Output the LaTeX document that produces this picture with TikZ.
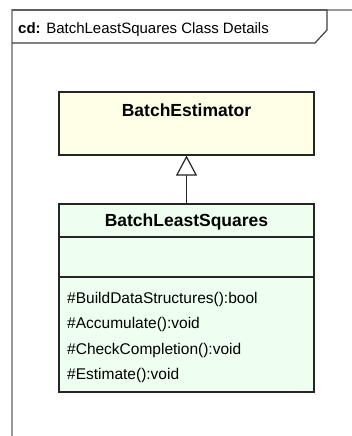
\documentclass[tikz,border=0pt]{standalone}
\usepackage{fontspec}
\setmainfont{Liberation Sans}
\usetikzlibrary{arrows.meta}
\definecolor{estfill}{HTML}{FFFEE6}
\definecolor{lsqfill}{HTML}{EEFFEF}
\definecolor{framegray}{HTML}{9A9A9A}
\definecolor{tabline}{HTML}{404040}
\tikzset{
  classbox/.style={draw=black!85, line width=1.2pt, inner sep=0pt},
  classtitle/.style={font=\fontsize{17.5}{17.5}\selectfont\bfseries, inner sep=0pt},
  member/.style={font=\fontsize{15.5}{15.5}\selectfont, inner sep=0pt, anchor=base west},
  inherit/.style={draw=black!85, line width=1.2pt, -{Triangle[open,length=20pt,width=21pt,fill=white]}},
  divider/.style={draw=black!85, line width=1.2pt}
}
\begin{document}
\begin{tikzpicture}[x=1pt,y=-1pt]
\useasboundingbox (0,0) rectangle (352,436);
\fill[white] (0,0) rectangle (352,436);
% frame
\draw[framegray, line width=1.2pt] (12,436) -- (12,10) -- (352,10);
\draw[tabline, line width=1.2pt] (12,10) -- (327,10) -- (327,30) -- (315,43) -- (12,43);
\node[anchor=base west, inner sep=0pt, font=\fontsize{15}{15}\selectfont] (title) at (18,34) {\textbf{cd:} BatchLeastSquares Class Details};
% BatchEstimator
\node[classbox, fill=estfill, minimum width=255pt, minimum height=63pt] (est) at (186.5,123.5) {};
\node[classtitle, anchor=base] (estname) at (186.5,116.5) {BatchEstimator};
% BatchLeastSquares
\node[classbox, fill=lsqfill, minimum width=255pt, minimum height=188pt] (lsq) at (186.5,298) {};
\node[classtitle, anchor=base] (lsqname) at (186.5,226.5) {BatchLeastSquares};
\coordinate (d1l) at (59,237); \coordinate (d1r) at (314,237);
\coordinate (d2l) at (59,277); \coordinate (d2r) at (314,277);
\draw[divider] (d1l) -- (d1r);
\draw[divider] (d2l) -- (d2r);
\node[member] (m1) at (67,303) {\#BuildDataStructures():bool};
\node[member] (m2) at (67,328.5) {\#Accumulate():void};
\node[member] (m3) at (67,354) {\#CheckCompletion():void};
\node[member] (m4) at (67,379.5) {\#Estimate():void};
% generalization
\draw[inherit] (lsq.north) -- (est.south);
\end{tikzpicture}
\end{document}
